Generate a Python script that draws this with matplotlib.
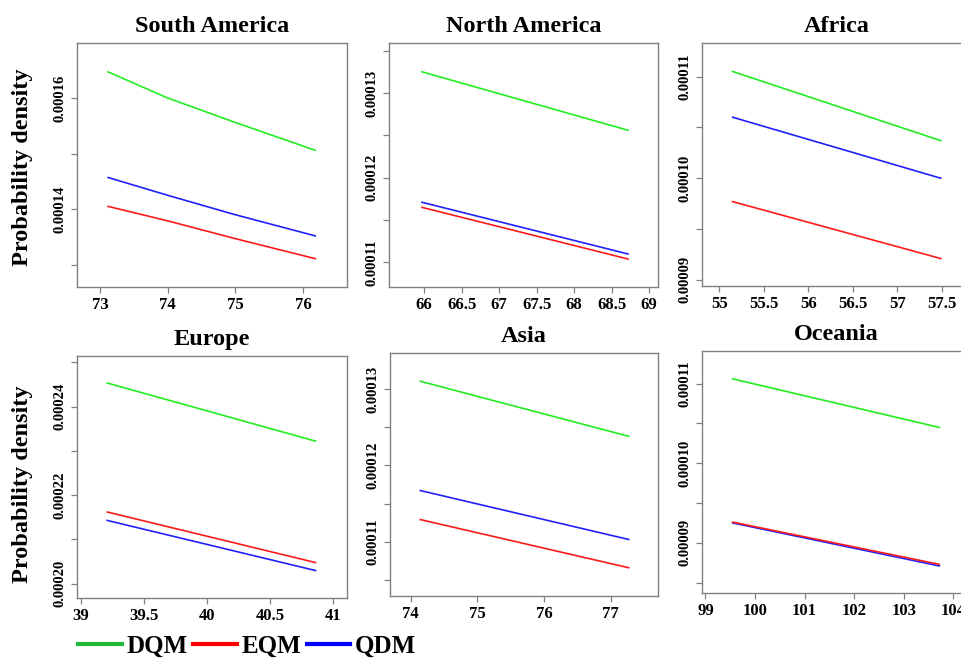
import matplotlib
matplotlib.use("Agg")
import matplotlib.pyplot as plt
from matplotlib.lines import Line2D
from matplotlib.ticker import MultipleLocator, FormatStrFormatter

plt.rcParams['font.family'] = ['Liberation Serif', 'DejaVu Serif']
plt.rcParams['font.weight'] = 'bold'

# data
regions = ['South America', 'North America', 'Africa', 'Europe', 'Asia', 'Oceania']
methods = ['DQM', 'EQM', 'QDM']

sa_x = [73.12, 74.0, 75.0, 76.18]
sa_dqm = [0.0001647, 0.0001600, 0.0001556, 0.0001506]
sa_eqm = [0.0001405, 0.0001379, 0.0001347, 0.0001311]
sa_qdm = [0.0001457, 0.0001425, 0.0001390, 0.0001352]

na_x = [65.97, 68.72]
na_dqm = [0.0001325, 0.0001256]
na_eqm = [0.0001165, 0.0001104]
na_qdm = [0.0001171, 0.0001110]

af_x = [55.15, 57.49]
af_dqm = [0.0001105, 0.0001037]
af_eqm = [0.0000977, 0.0000921]
af_qdm = [0.0001060, 0.0001000]

eu_x = [39.21, 40.86]
eu_dqm = [0.0002453, 0.0002322]
eu_eqm = [0.0002162, 0.0002048]
eu_qdm = [0.0002143, 0.0002030]

as_x = [74.145, 77.27]
as_dqm = [0.0001310, 0.0001238]
as_eqm = [0.0001129, 0.0001066]
as_qdm = [0.0001167, 0.0001103]

oc_x = [99.55, 103.72]
oc_dqm = [0.0001106, 0.0001045]
oc_eqm = [0.0000926, 0.0000873]
oc_qdm = [0.0000925, 0.0000871]

xs = [sa_x, na_x, af_x, eu_x, as_x, oc_x]
dqm = [sa_dqm, na_dqm, af_dqm, eu_dqm, as_dqm, oc_dqm]
eqm = [sa_eqm, na_eqm, af_eqm, eu_eqm, as_eqm, oc_eqm]
qdm = [sa_qdm, na_qdm, af_qdm, eu_qdm, as_qdm, oc_qdm]

# layout (pixels: left, top, right, bottom)
W, H = 961, 659
boxes = [(77, 43, 347, 287), (389, 43, 658, 287), (702, 43, 971, 286),
         (77, 356, 347, 598), (390, 353, 658, 596), (702, 351, 971, 593)]
xlims = [(72.66, 76.65), (65.53, 69.12), (54.806, 57.83),
         (38.97, 41.11), (73.69, 77.71), (98.93, 104.36)]
ylims = [(0.000126, 0.0001699), (0.0001071, 0.0001359), (0.0000894, 0.0001133),
         (0.0001968, 0.0002514), (0.0001029, 0.0001347), (0.0000837, 0.0001141)]
xsteps = [1, 0.5, 0.5, 0.5, 1, 1]
ysteps = [2e-5, 1e-5, 1e-5, 2e-5, 1e-5, 1e-5]

c_green = '#22ee22'
c_red = '#ff1a1a'
c_blue = '#2020ff'
spine_c = '#808080'

fig = plt.figure(figsize=(W / 100, H / 100), dpi=100)

for i in range(6):
    l, t, r, b = boxes[i]
    ax = fig.add_axes([l / W, 1 - b / H, (r - l) / W, (b - t) / H])
    ax.plot(xs[i], dqm[i], color=c_green, lw=1.2)
    ax.plot(xs[i], qdm[i], color=c_blue, lw=1.2)
    ax.plot(xs[i], eqm[i], color=c_red, lw=1.2)
    ax.set_xlim(xlims[i])
    ax.set_ylim(ylims[i])
    ax.set_title(regions[i], fontsize=17.5, fontweight='bold', pad=8)

    ax.xaxis.set_major_locator(MultipleLocator(xsteps[i]))
    ax.xaxis.set_major_formatter(FormatStrFormatter('%g'))
    ax.yaxis.set_major_locator(MultipleLocator(ysteps[i]))
    ax.yaxis.set_minor_locator(MultipleLocator(ysteps[i] / 2))
    ax.yaxis.set_major_formatter(FormatStrFormatter('%.5f'))

    ax.tick_params(axis='x', which='both', length=4.3, width=0.9, color=spine_c,
                   labelsize=12, pad=3)
    ax.tick_params(axis='y', which='both', length=4.3, width=0.9, color=spine_c,
                   labelsize=10.5, pad=3)
    for lab in ax.get_yticklabels():
        lab.set_rotation(90)
        lab.set_va('center')
        lab.set_fontweight('bold')
    for lab in ax.get_xticklabels():
        lab.set_fontweight('bold')
    for s in ax.spines.values():
        s.set_color(spine_c)
        s.set_linewidth(1.0)

# y axis label for each row
fig.text(23 / W, 1 - 167 / H, 'Probability density', rotation=90, ha='center',
         va='center', fontsize=17.5, fontweight='bold')
fig.text(23 / W, 1 - 484 / H, 'Probability density', rotation=90, ha='center',
         va='center', fontsize=17.5, fontweight='bold')

# legend
handles = [Line2D([], [], color='#22b83a', lw=3),
           Line2D([], [], color='#ff0000', lw=3),
           Line2D([], [], color='#0000ff', lw=3)]
fig.legend(handles, methods, loc='center left', bbox_to_anchor=(78 / W, 13 / H),
           ncol=3, frameon=False, handlelength=1.75,
           handletextpad=0.2, columnspacing=0.2, borderpad=0, borderaxespad=0,
           prop={'weight': 'bold', 'size': 18})

fig.savefig('out.png', dpi=100)
